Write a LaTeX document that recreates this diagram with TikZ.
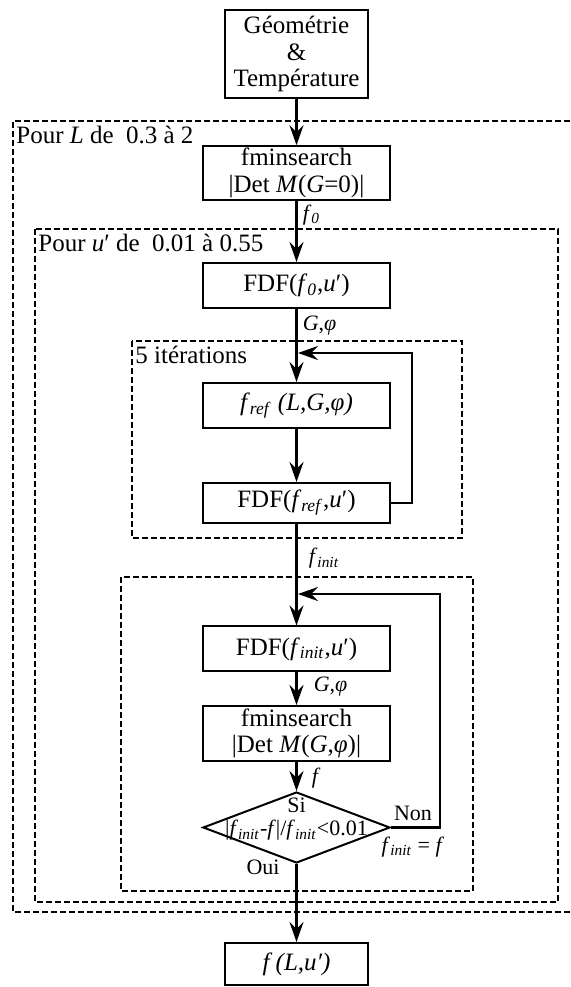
\documentclass[tikz,border=0pt]{standalone}
\usepackage{fontspec}
\setmainfont{Liberation Serif}
\usetikzlibrary{arrows.meta,positioning,calc,shapes.geometric}

\newcommand{\fsub}[1]{\textit{f}\textsubscript{\textit{#1}}}
\newcommand{\uprime}{\textit{u}′}

\begin{document}
\begin{tikzpicture}[x=5pt,y=5pt,
  box/.style={draw,line width=1pt,minimum width=93.5pt,minimum height=22.5pt,inner sep=1pt,align=center,font=\fontsize{12.5}{13.3}\selectfont},
  arr/.style={line width=1.35pt,-{Stealth[length=10pt,width=7pt,inset=3.5pt]}},
  loopbox/.style={line width=1pt,dash pattern=on 3pt off 1.5pt},
  lbl/.style={inner sep=1pt,font=\fontsize{11}{11.5}\selectfont},
  title/.style={anchor=north west,inner xsep=1.5pt,inner ysep=2.5pt,font=\fontsize{12.5}{13.3}\selectfont}]
  \useasboundingbox (0,0) rectangle (57,98.7);
  % Loops
  \draw[loopbox] (57,86.6) -- (1.3,86.6) -- (1.3,7.5) -- (57,7.5);
  \draw[loopbox] (3.5,75.8) rectangle (55.8,8.5);
  \draw[loopbox] (13.2,64.6) rectangle (46.2,44.9);
  \draw[loopbox] (12.1,41.0) rectangle (47.3,9.6);
  \node[title] (tL) at (1.3,86.6) {Pour \textit{L} de \ 0.3 à 2};
  \node[title] (tU) at (3.5,75.8) {Pour \uprime\ de \ 0.01 à 0.55};
  \node[title] (tI) at (13.2,64.6) {5 itérations};
  % Steps
  \node[box,minimum width=71.5pt,minimum height=44pt] (geo) at (29.65,93.3) {Géométrie\\\&\\Température};
  \node[box,minimum height=26pt] (fmin1) at (29.65,81.4) {fminsearch\\|Det \textit{M}(\textit{G}=0)|};
  \node[box] (fdf0) at (29.65,70.15) {FDF(\fsub{0},\uprime)};
  \node[box] (fref) at (29.65,58.15) {\fsub{ref} \textit{(L,G,φ)}};
  \node[box,minimum height=20pt] (fdfref) at (29.65,48.4) {FDF(\fsub{ref},\uprime)};
  \node[box] (fdfinit) at (29.65,33.8) {FDF(\fsub{init},\uprime)};
  \node[box,minimum height=27.5pt] (fmin2) at (29.65,25.35) {fminsearch\\|Det \textit{M}(\textit{G},\textit{φ})|};
  \node[diamond,draw,line width=1pt,minimum width=93.5pt,minimum height=35.5pt,inner sep=0pt] (test) at (29.65,15.95) {};
  \node[lbl,align=center] (testtxt) at ([yshift=4pt]test.center) {Si\\|\fsub{init}-\textit{f}|/\fsub{init}<0.01};
  \node[lbl] (non) at (41.3,17.4) {Non};
  \node[lbl] (fset) at (41.3,14.0) {\fsub{init} = \textit{f}};
  \node[lbl] (oui) at (26.3,12.0) {Oui};
  \node[box,minimum width=71.5pt,minimum height=21pt] (final) at (29.65,2.3) {\textit{f (L,\uprime)}};
  % Flow
  \draw[arr] (geo) -- (fmin1);
  \draw[arr] (fmin1) -- node[lbl,right,pos=.23,xshift=1.5pt] (lf0) {\fsub{0}} (fdf0);
  \draw[arr] (fdf0) -- node[lbl,right,pos=.23,xshift=1.5pt] (lg1) {\textit{G},\textit{φ}} (fref);
  \draw[arr] (fref) -- (fdfref);
  \draw[arr] (fdfref) -- node[lbl,right,pos=.34,xshift=4.5pt] (linit) {\fsub{init}} (fdfinit);
  \draw[arr] (fdfinit) -- node[lbl,right,pos=.43,xshift=7pt] (lg2) {\textit{G},\textit{φ}} (fmin2);
  \draw[arr] (fmin2) -- node[lbl,right,pos=.55,xshift=6pt] (lf) {\textit{f}} (test);
  \draw[arr] (test) -- (final);
  % Feedback
  \coordinate (fb1) at (41.2,63.4);
  \coordinate (fb1end) at (29.8,63.4);
  \draw[arr] (fdfref.east) -| (fb1) -- (fb1end);
  \coordinate (fb2) at (44.0,39.3);
  \coordinate (fb2end) at (29.8,39.3);
  \draw[arr] (test.east) -| (fb2) -- (fb2end);
\end{tikzpicture}
\end{document}
